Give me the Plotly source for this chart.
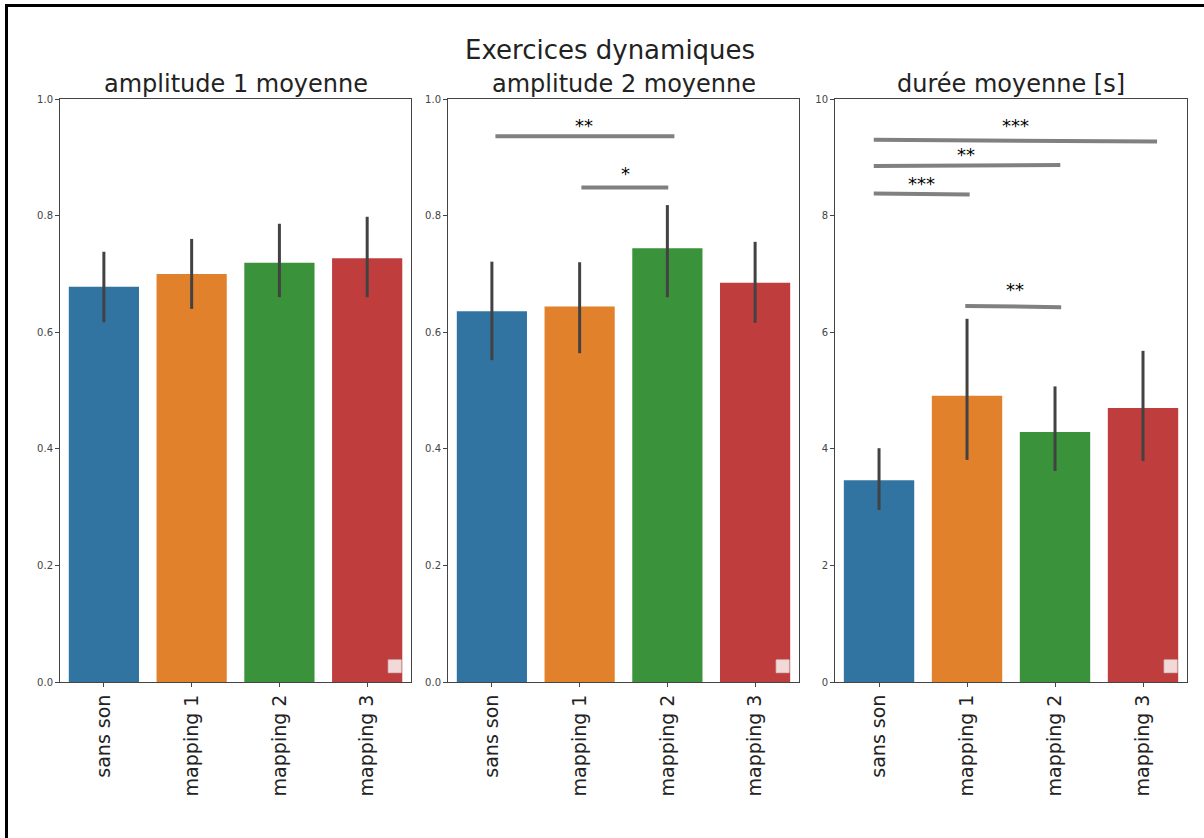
import plotly.graph_objects as go
from plotly.subplots import make_subplots

categories = ["sans son", "mapping 1", "mapping 2", "mapping 3"]
colors = ["#3274a1", "#e1812c", "#3a923a", "#c03d3e"]

titles = ["amplitude 1 moyenne", "amplitude 2 moyenne", "durée moyenne [s]"]

amp1_mean = [0.678, 0.700, 0.719, 0.727]
amp1_hi = [0.738, 0.760, 0.786, 0.798]
amp1_lo = [0.617, 0.640, 0.660, 0.660]

amp2_mean = [0.636, 0.644, 0.744, 0.685]
amp2_hi = [0.721, 0.720, 0.818, 0.755]
amp2_lo = [0.552, 0.564, 0.660, 0.616]

dur_mean = [3.46, 4.91, 4.29, 4.70]
dur_hi = [4.01, 6.23, 5.07, 5.68]
dur_lo = [2.95, 3.81, 3.62, 3.79]

# significance lines: (x_start, x_end, y_start, y_end, label, label_x, label_y)
amp2_sig = [
    (0.04, 2.08, 0.936, 0.936, "**", 1.05, 0.955),
    (1.02, 2.01, 0.848, 0.848, "*", 1.52, 0.872),
]
dur_sig = [
    (-0.06, 3.16, 9.30, 9.27, "***", 1.55, 9.55),
    (-0.06, 2.06, 8.85, 8.87, "**", 0.99, 9.04),
    (-0.06, 1.03, 8.38, 8.36, "***", 0.48, 8.55),
    (0.98, 2.07, 6.45, 6.43, "**", 1.55, 6.73),
]

y_ranges = [(0, 1.0), (0, 1.0), (0, 10)]
y_ticks = [
    [0.0, 0.2, 0.4, 0.6, 0.8, 1.0],
    [0.0, 0.2, 0.4, 0.6, 0.8, 1.0],
    [0, 2, 4, 6, 8, 10],
]
y_ticktext = [
    ["0.0", "0.2", "0.4", "0.6", "0.8", "1.0"],
    ["0.0", "0.2", "0.4", "0.6", "0.8", "1.0"],
    ["0", "2", "4", "6", "8", "10"],
]

FONT = "DejaVu Sans"

fig = make_subplots(rows=1, cols=3, horizontal_spacing=0.03)

panels = [
    (amp1_mean, amp1_hi, amp1_lo, []),
    (amp2_mean, amp2_hi, amp2_lo, amp2_sig),
    (dur_mean, dur_hi, dur_lo, dur_sig),
]

domains = [[0.0, 0.3115], [0.3443, 0.6557], [0.6877, 1.0]]

for i, (m, hi, lo, sig) in enumerate(panels):
    col = i + 1
    fig.add_trace(
        go.Bar(
            x=list(range(len(categories))),
            y=m,
            marker=dict(color=colors, line=dict(width=0)),
            width=0.8,
            error_y=dict(
                type="data",
                symmetric=False,
                array=[h - v for h, v in zip(hi, m)],
                arrayminus=[v - l for l, v in zip(lo, m)],
                color="#424242",
                thickness=3,
                width=0,
            ),
            showlegend=False,
        ),
        row=1, col=col,
    )
    for (xs, xe, ys, ye, lab, lx, ly) in sig:
        fig.add_trace(
            go.Scatter(
                x=[xs, xe], y=[ys, ye], mode="lines",
                line=dict(color="#808080", width=4),
                showlegend=False, hoverinfo="skip",
            ),
            row=1, col=col,
        )
        fig.add_annotation(
            x=lx, y=ly, text=lab, showarrow=False,
            font=dict(family=FONT, size=18, color="black"),
            xref=f"x{col}" if col > 1 else "x", yref=f"y{col}" if col > 1 else "y",
        )
    xa = dict(
        domain=domains[i],
        range=[-0.5, 3.5],
        tickmode="array",
        tickvals=list(range(len(categories))),
        ticktext=categories,
        tickangle=-90,
        tickfont=dict(family=FONT, size=19, color="#222"),
        showline=True, linecolor="#444", linewidth=1, mirror=True,
        ticks="outside", ticklen=4, tickcolor="#444",
        showgrid=False, zeroline=False,
    )
    ya = dict(
        range=list(y_ranges[i]),
        tickmode="array",
        tickvals=y_ticks[i],
        ticktext=y_ticktext[i],
        tickfont=dict(family=FONT, size=10, color="#444"),
        showline=True, linecolor="#444", linewidth=1, mirror=True,
        ticks="outside", ticklen=4, tickcolor="#444",
        showgrid=False, zeroline=False,
    )
    fig.update_xaxes(xa, row=1, col=col)
    fig.update_yaxes(ya, row=1, col=col)
    # empty legend box (matplotlib artifact)
    xr = "x domain" if col == 1 else f"x{col} domain"
    yr = "y domain" if col == 1 else f"y{col} domain"
    fig.add_shape(
        type="rect", xref=xr, yref=yr,
        x0=0.935, x1=0.972, y0=0.016, y1=0.038,
        fillcolor="rgba(255,255,255,0.8)",
        line=dict(color="rgba(210,210,210,0.8)", width=1),
    )
    # subplot title
    fig.add_annotation(
        x=0.5, y=1.0, xref=xr, yref=yr, yanchor="bottom", yshift=-1,
        text=titles[i], showarrow=False,
        font=dict(family=FONT, size=24, color="#222"),
    )

# main title
fig.add_annotation(
    x=(610 - 60) / 1127, y=(682 - 50) / 583, xref="paper", yref="paper",
    xanchor="center", yanchor="middle",
    text="Exercices dynamiques", showarrow=False,
    font=dict(family=FONT, size=26, color="#222"),
)

# outer frame (black border at top/left)
fig.add_shape(
    type="rect", xref="paper", yref="paper",
    x0=(6.5 - 60) / 1127, x1=1.2, y0=-0.5, y1=(682 - 5.5) / 583,
    line=dict(color="black", width=3), fillcolor="rgba(0,0,0,0)",
    layer="above",
)

fig.update_layout(
    width=1204, height=838,
    margin=dict(l=60, r=17, t=99, b=156),
    paper_bgcolor="white", plot_bgcolor="white",
    bargap=0.2,
    font=dict(family=FONT),
)

fig.write_html(
    "out.html",
    config={"displayModeBar": False},
    post_script="document.body.style.margin='0';document.body.style.overflow='hidden';",
)
